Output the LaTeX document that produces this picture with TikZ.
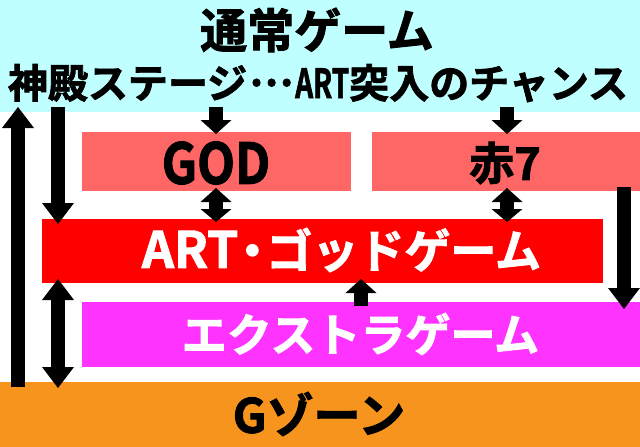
\documentclass[tikz,border=0pt]{standalone}
\usepackage{fontspec}
\usepackage{graphicx}
\newfontfamily\jp{Noto Sans CJK JP}[UprightFont=* Bold, FakeBold=2]
\usetikzlibrary{arrows.meta}
\definecolor{cyanbg}{RGB}{192,255,255}
\definecolor{pinkbox}{RGB}{255,102,102}
\definecolor{redbox}{RGB}{255,0,0}
\definecolor{magbox}{RGB}{255,51,255}
\definecolor{orangebox}{RGB}{247,148,30}
\tikzset{
  box/.style={draw=none, inner sep=0pt, outer sep=0pt},
  lbl/.style={inner sep=0pt, outer sep=0pt},
  arr/.style={line width=14pt, black},
  bigtip/.style={-{Triangle[width=32pt,length=21pt,line width=0pt]}},
  smalltip/.style={-{Triangle[width=31pt,length=14pt,line width=0pt]}},
  dblbig/.style={{Triangle[width=32pt,length=21pt,line width=0pt]}-{Triangle[width=32pt,length=21pt,line width=0pt]}},
  dblsmall/.style={{Triangle[width=31pt,length=14pt,line width=0pt]}-{Triangle[width=31pt,length=13pt,line width=0pt]}},
}
\newcommand{\fs}[1]{\fontsize{#1pt}{#1pt}\selectfont}
\newcommand{\middots}{\kern0.05em\raisebox{0.3em}{…}\kern0.05em}
\begin{document}
\begin{tikzpicture}[x=1pt,y=-1pt]
\useasboundingbox (0,0) rectangle (640,447);
% boxes
\node[box, fill=cyanbg, minimum width=640pt, minimum height=112pt] (top) at (320,56) {};
\node[box, fill=pinkbox, minimum width=269pt, minimum height=59pt] (god) at (216.5,161.5) {};
\node[box, fill=pinkbox, minimum width=268pt, minimum height=59pt] (aka) at (506,161.5) {};
\node[box, fill=redbox, minimum width=561pt, minimum height=64pt] (art) at (322.5,251) {};
\node[box, fill=magbox, minimum width=558pt, minimum height=65pt] (extra) at (361,334.5) {};
\node[box, fill=orangebox, minimum width=640pt, minimum height=65pt] (gz) at (320,414.5) {};
% texts
\node[lbl, font=\jp\fs{47}] (t1) at (317,30) {通常ゲーム};
\node[lbl, font=\jp\fs{40}, anchor=base] (t2) at (318,98) {神殿ステージ\middots\scalebox{0.7}[1]{ART}突入のチャンス};
\node[lbl, font=\jp\fs{56}] (tgod) at (216,163) {\scalebox{0.88}[1]{GOD}};
\node[lbl, font=\jp\fs{45}] (taka) at (505,163) {赤7};
\node[lbl, font=\jp\fs{46}, text=white, anchor=east] (tart) at (541,250) {{\fs{50}ART}\kern-9pt・\kern-9pt ゴッドゲーム};
\node[lbl, font=\jp\fs{45}, text=white] (tex) at (360.5,334) {エクストラゲーム};
\node[lbl, font=\jp\fs{47}] (tgz) at (319,414) {Gゾーン};
% arrow end points
\coordinate (a1s) at (18,387);  \coordinate (a1e) at (18,107);
\coordinate (a2s) at (58,107);  \coordinate (a2e) at (58,224);
\coordinate (a3s) at (216,107); \coordinate (a3e) at (216,134);
\coordinate (a4s) at (507,107); \coordinate (a4e) at (507,134);
\coordinate (a5s) at (216,188); \coordinate (a5e) at (216,222);
\coordinate (a6s) at (507,188); \coordinate (a6e) at (507,222);
\coordinate (a7s) at (58,279);  \coordinate (a7e) at (58,388);
\coordinate (a8s) at (361,306); \coordinate (a8e) at (361,279);
\coordinate (a9s) at (624,187); \coordinate (a9e) at (624,309);
% arrows
\draw[arr, bigtip] (a1s) -- (a1e);
\draw[arr, bigtip] (a2s) -- (a2e);
\draw[arr, smalltip] (a3s) -- (a3e);
\draw[arr, smalltip] (a4s) -- (a4e);
\draw[arr, dblsmall] (a5s) -- (a5e);
\draw[arr, dblsmall] (a6s) -- (a6e);
\draw[arr, dblbig] (a7s) -- (a7e);
\draw[arr, smalltip] (a8s) -- (a8e);
\draw[arr, bigtip] (a9s) -- (a9e);
\end{tikzpicture}
\end{document}
